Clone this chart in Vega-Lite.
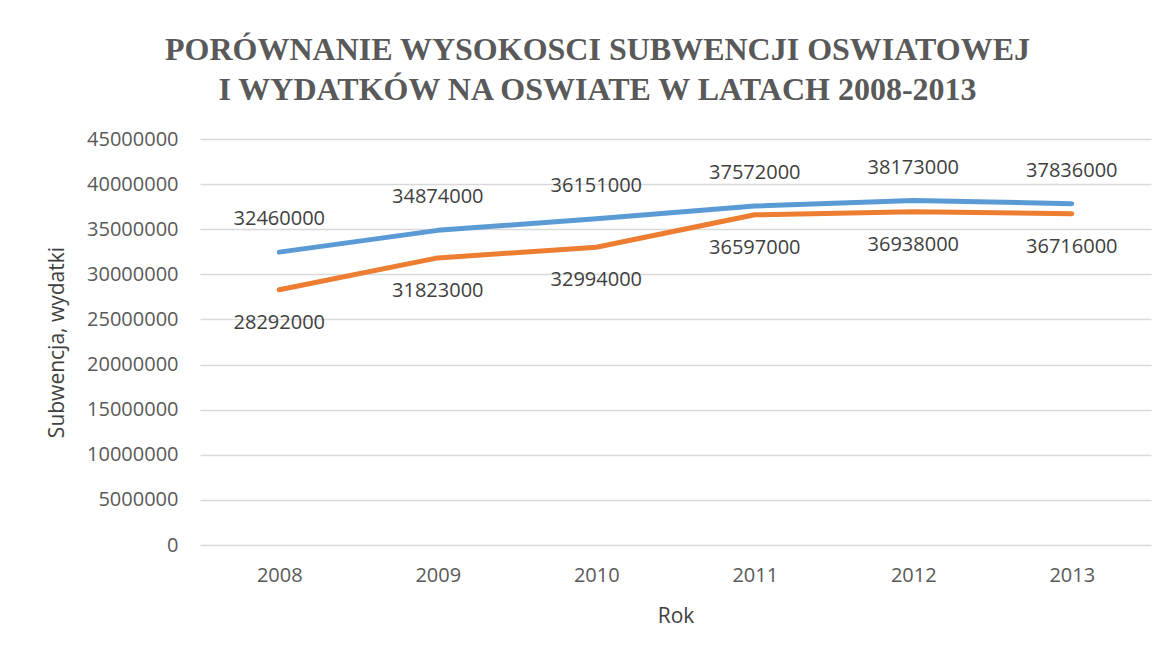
{
  "$schema": "https://vega.github.io/schema/vega-lite/v6.json",
  "autosize": "none",
  "width": 951,
  "height": 406,
  "padding": {"left": 200, "top": 139, "right": 20, "bottom": 112},
  "background": "white",
  "config": {"view": {"stroke": null}, "font": "Open Sans"},
  "title": {
    "text": ["PORÓWNANIE WYSOKOSCI SUBWENCJI OSWIATOWEJ", "I WYDATKÓW NA OSWIATE W LATACH 2008-2013"],
    "font": "Liberation Serif",
    "fontSize": 32,
    "fontWeight": "bold",
    "color": "#595959",
    "lineHeight": 40,
    "anchor": "middle",
    "frame": "group",
    "dx": -78,
    "offset": 22
  },
  "data": {
    "values": [
      {"rok": "2008", "seria": "Subwencja", "wartosc": 32460000},
      {"rok": "2009", "seria": "Subwencja", "wartosc": 34874000},
      {"rok": "2010", "seria": "Subwencja", "wartosc": 36151000},
      {"rok": "2011", "seria": "Subwencja", "wartosc": 37572000},
      {"rok": "2012", "seria": "Subwencja", "wartosc": 38173000},
      {"rok": "2013", "seria": "Subwencja", "wartosc": 37836000},
      {"rok": "2008", "seria": "Wydatki", "wartosc": 28292000},
      {"rok": "2009", "seria": "Wydatki", "wartosc": 31823000},
      {"rok": "2010", "seria": "Wydatki", "wartosc": 32994000},
      {"rok": "2011", "seria": "Wydatki", "wartosc": 36597000},
      {"rok": "2012", "seria": "Wydatki", "wartosc": 36938000},
      {"rok": "2013", "seria": "Wydatki", "wartosc": 36716000}
    ]
  },
  "encoding": {
    "x": {
      "field": "rok",
      "type": "ordinal",
      "scale": {"type": "point", "padding": 0.5},
      "axis": {
        "title": "Rok",
        "labelAngle": 0,
        "labelFont": "Open Sans",
        "labelFontSize": 20,
        "labelColor": "#595959",
        "labelPadding": 20,
        "ticks": false,
        "domain": false,
        "titleFont": "Open Sans",
        "titleFontSize": 21,
        "titleFontWeight": "normal",
        "titleColor": "#404040",
        "titleBaseline": "middle",
        "titleY": 71
      }
    },
    "y": {
      "field": "wartosc",
      "type": "quantitative",
      "scale": {"domain": [0, 45000000], "nice": false},
      "axis": {
        "title": "Subwencja, wydatki",
        "values": [0, 5000000, 10000000, 15000000, 20000000, 25000000, 30000000, 35000000, 40000000, 45000000],
        "format": "d",
        "labelFont": "Open Sans",
        "labelFontSize": 20,
        "labelColor": "#595959",
        "labelPadding": 22,
        "ticks": false,
        "domain": false,
        "grid": true,
        "gridColor": "#d9d9d9",
        "gridWidth": 1.5,
        "titleFont": "Open Sans",
        "titleFontSize": 21,
        "titleFontWeight": "normal",
        "titleColor": "#404040",
        "titleBaseline": "middle",
        "titleX": -143
      }
    }
  },
  "layer": [
    {
      "mark": {"type": "line", "strokeWidth": 5, "strokeCap": "round", "strokeJoin": "round"},
      "encoding": {
        "color": {
          "field": "seria",
          "type": "nominal",
          "scale": {"domain": ["Subwencja", "Wydatki"], "range": ["#5B9BD5", "#ED7D31"]},
          "legend": null
        }
      }
    },
    {
      "transform": [{"filter": "datum.seria === 'Subwencja'"}],
      "mark": {"type": "text", "dy": -33, "font": "Open Sans", "fontSize": 20, "color": "#404040"},
      "encoding": {"text": {"field": "wartosc", "type": "quantitative", "format": "d"}}
    },
    {
      "transform": [{"filter": "datum.seria === 'Wydatki'"}],
      "mark": {"type": "text", "dy": 33, "font": "Open Sans", "fontSize": 20, "color": "#404040"},
      "encoding": {"text": {"field": "wartosc", "type": "quantitative", "format": "d"}}
    }
  ]
}
